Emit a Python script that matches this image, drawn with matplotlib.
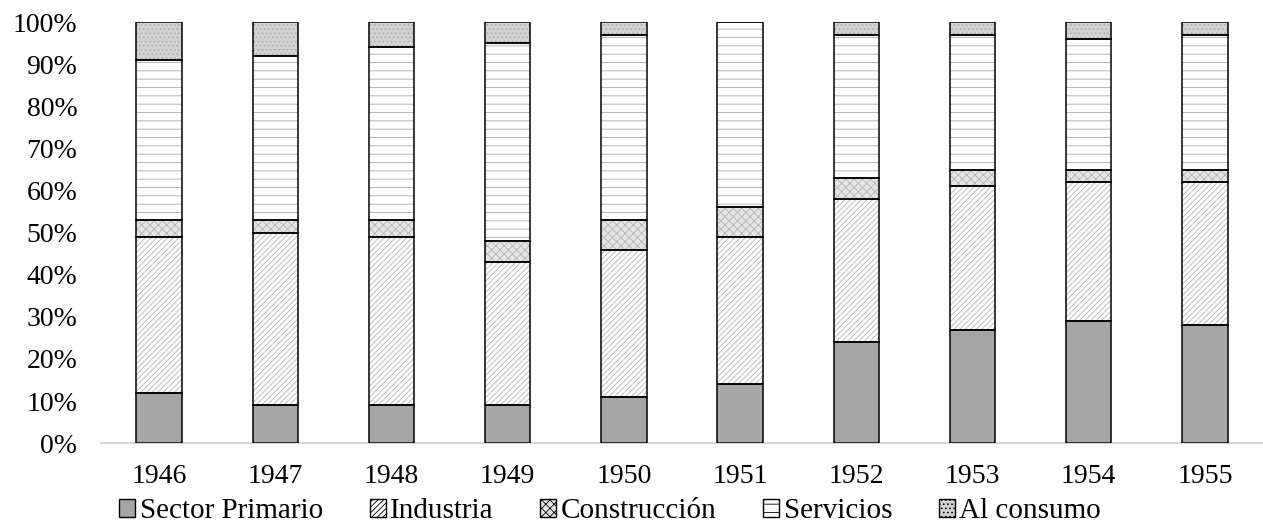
import matplotlib.pyplot as plt
import numpy as np
from matplotlib.patches import Patch

plt.rcParams['font.family'] = ['Liberation Serif', 'DejaVu Serif']
plt.rcParams['hatch.linewidth'] = 0.6

# Data (percent of total)
years = ['1946', '1947', '1948', '1949', '1950', '1951', '1952', '1953', '1954', '1955']
primario = [12, 9, 9, 9, 11, 14, 24, 27, 29, 28]
industria = [37, 41, 40, 34, 35, 35, 34, 34, 33, 34]
construccion = [4, 3, 4, 5, 7, 7, 5, 4, 3, 3]
servicios = [38, 39, 41, 47, 44, 44, 34, 32, 31, 32]
consumo = [9, 8, 6, 5, 3, 0, 3, 3, 4, 3]

labels = ['Sector Primario', 'Industria', 'Construcción', 'Servicios', 'Al consumo']
series = [primario, industria, construccion, servicios, consumo]
# (face colour, hatch, hatch colour)
styles = [
    ('#a6a6a6', None, '#a6a6a6'),
    ('white', '//////', '#b4b4b4'),
    ('#e6e6e6', 'xxxx', '#b4b4b4'),
    ('white', '--', '#a8a8a8'),
    ('#d2d2d2', '....', '#a8a8a8'),
]

fig = plt.figure(figsize=(12.63, 5.27), dpi=100)
ax = fig.add_axes([0.08, 0.159, 0.92, 0.799])

x = np.arange(len(years))
width = 0.39
bottom = np.zeros(len(years))
for vals, (fc, hatch, hc) in zip(series, styles):
    vals = np.array(vals, dtype=float)
    # hatch layer
    ax.bar(x, vals, width, bottom=bottom, color=fc, hatch=hatch,
           edgecolor=hc, linewidth=0, zorder=2)
    # outline layer
    ax.bar(x, vals, width, bottom=bottom, fill=False,
           edgecolor='black', linewidth=1.1, zorder=3)
    bottom += vals

ax.set_xlim(-0.5, len(years) - 0.5)
ax.set_ylim(0, 100)
ax.set_yticks(np.arange(0, 101, 10))
ax.set_yticklabels([f'{v}%' for v in range(0, 101, 10)])
ax.set_xticks(x)
ax.set_xticklabels(years)
ax.tick_params(axis='both', length=0, colors='black', labelsize=20)
ax.tick_params(axis='y', pad=17)
ax.tick_params(axis='x', pad=15)

for side in ['top', 'right', 'left']:
    ax.spines[side].set_visible(False)
ax.spines['bottom'].set_color('#d0d0d0')
ax.spines['bottom'].set_linewidth(1.2)

handles = []
for lab, (fc, hatch, hc) in zip(labels, styles):
    handles.append(Patch(facecolor=fc, hatch=hatch, edgecolor='black',
                         linewidth=1.0, label=lab))
fig.legend(handles=handles, loc='center', bbox_to_anchor=(0.483, 0.03),
           ncol=5, frameon=False, fontsize=21, handlelength=0.55,
           handleheight=0.55, handletextpad=0.15, columnspacing=1.6,
           borderpad=0.1)

fig.savefig('out.png', dpi=100)
